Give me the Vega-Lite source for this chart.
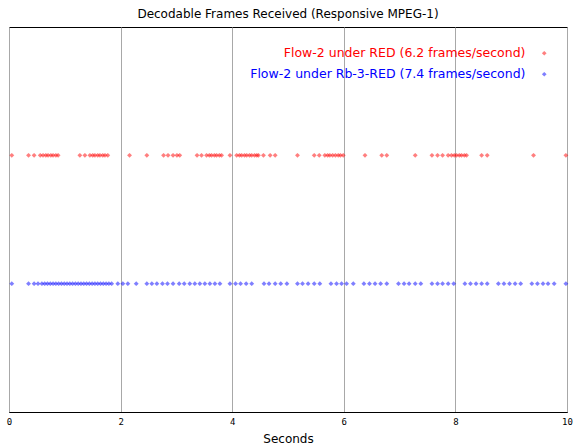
{
  "$schema": "https://vega.github.io/schema/vega-lite/v6.json",
  "autosize": {"type": "none"},
  "width": 558,
  "height": 385,
  "padding": {"left": 9, "top": 27, "right": 7, "bottom": 34},
  "background": "white",
  "title": {"text": "Decodable Frames Received (Responsive MPEG-1)", "font": "DejaVu Sans", "fontSize": 12, "fontWeight": "normal", "color": "#000", "offset": 6, "anchor": "middle"},
  "config": {"view": {"stroke": "#000", "strokeWidth": 1}},
  "data": {"values": [
    {"t":0.05,"s":"RED"},{"t":0.35,"s":"RED"},{"t":0.45,"s":"RED"},{"t":0.56,"s":"RED"},{"t":0.61,"s":"RED"},{"t":0.66,"s":"RED"},{"t":0.70,"s":"RED"},{"t":0.75,"s":"RED"},{"t":0.79,"s":"RED"},{"t":0.84,"s":"RED"},{"t":0.88,"s":"RED"},{"t":1.27,"s":"RED"},{"t":1.36,"s":"RED"},{"t":1.45,"s":"RED"},{"t":1.50,"s":"RED"},{"t":1.54,"s":"RED"},{"t":1.59,"s":"RED"},{"t":1.63,"s":"RED"},{"t":1.68,"s":"RED"},{"t":1.72,"s":"RED"},{"t":1.77,"s":"RED"},{"t":2.16,"s":"RED"},{"t":2.47,"s":"RED"},{"t":2.77,"s":"RED"},{"t":2.85,"s":"RED"},{"t":2.94,"s":"RED"},{"t":3.01,"s":"RED"},{"t":3.06,"s":"RED"},{"t":3.37,"s":"RED"},{"t":3.45,"s":"RED"},{"t":3.54,"s":"RED"},{"t":3.59,"s":"RED"},{"t":3.63,"s":"RED"},{"t":3.68,"s":"RED"},{"t":3.72,"s":"RED"},{"t":3.77,"s":"RED"},{"t":3.81,"s":"RED"},{"t":3.96,"s":"RED"},{"t":4.08,"s":"RED"},{"t":4.13,"s":"RED"},{"t":4.17,"s":"RED"},{"t":4.22,"s":"RED"},{"t":4.26,"s":"RED"},{"t":4.31,"s":"RED"},{"t":4.35,"s":"RED"},{"t":4.40,"s":"RED"},{"t":4.44,"s":"RED"},{"t":4.47,"s":"RED"},{"t":4.56,"s":"RED"},{"t":4.68,"s":"RED"},{"t":4.77,"s":"RED"},{"t":5.17,"s":"RED"},{"t":5.47,"s":"RED"},{"t":5.56,"s":"RED"},{"t":5.66,"s":"RED"},{"t":5.71,"s":"RED"},{"t":5.75,"s":"RED"},{"t":5.80,"s":"RED"},{"t":5.85,"s":"RED"},{"t":5.90,"s":"RED"},{"t":5.94,"s":"RED"},{"t":5.99,"s":"RED"},{"t":6.38,"s":"RED"},{"t":6.68,"s":"RED"},{"t":6.77,"s":"RED"},{"t":7.28,"s":"RED"},{"t":7.58,"s":"RED"},{"t":7.68,"s":"RED"},{"t":7.77,"s":"RED"},{"t":7.87,"s":"RED"},{"t":7.93,"s":"RED"},{"t":7.98,"s":"RED"},{"t":8.02,"s":"RED"},{"t":8.07,"s":"RED"},{"t":8.11,"s":"RED"},{"t":8.16,"s":"RED"},{"t":8.20,"s":"RED"},{"t":8.47,"s":"RED"},{"t":8.57,"s":"RED"},{"t":9.40,"s":"RED"},{"t":9.98,"s":"RED"},
    {"t":0.05,"s":"Rb"},{"t":0.35,"s":"Rb"},{"t":0.45,"s":"Rb"},{"t":0.52,"s":"Rb"},{"t":0.59,"s":"Rb"},{"t":0.64,"s":"Rb"},{"t":0.69,"s":"Rb"},{"t":0.74,"s":"Rb"},{"t":0.79,"s":"Rb"},{"t":0.84,"s":"Rb"},{"t":0.89,"s":"Rb"},{"t":0.94,"s":"Rb"},{"t":0.99,"s":"Rb"},{"t":1.04,"s":"Rb"},{"t":1.09,"s":"Rb"},{"t":1.14,"s":"Rb"},{"t":1.19,"s":"Rb"},{"t":1.24,"s":"Rb"},{"t":1.29,"s":"Rb"},{"t":1.34,"s":"Rb"},{"t":1.39,"s":"Rb"},{"t":1.44,"s":"Rb"},{"t":1.49,"s":"Rb"},{"t":1.54,"s":"Rb"},{"t":1.59,"s":"Rb"},{"t":1.64,"s":"Rb"},{"t":1.69,"s":"Rb"},{"t":1.74,"s":"Rb"},{"t":1.79,"s":"Rb"},{"t":1.84,"s":"Rb"},{"t":1.95,"s":"Rb"},{"t":2.04,"s":"Rb"},{"t":2.13,"s":"Rb"},{"t":2.28,"s":"Rb"},
    {"t":2.47,"s":"Rb"},{"t":2.56,"s":"Rb"},{"t":2.65,"s":"Rb"},{"t":2.75,"s":"Rb"},{"t":2.84,"s":"Rb"},{"t":2.94,"s":"Rb"},{"t":3.05,"s":"Rb"},{"t":3.14,"s":"Rb"},{"t":3.24,"s":"Rb"},{"t":3.33,"s":"Rb"},{"t":3.42,"s":"Rb"},{"t":3.51,"s":"Rb"},{"t":3.60,"s":"Rb"},{"t":3.69,"s":"Rb"},{"t":3.78,"s":"Rb"},
    {"t":3.96,"s":"Rb"},{"t":4.06,"s":"Rb"},{"t":4.15,"s":"Rb"},{"t":4.25,"s":"Rb"},{"t":4.35,"s":"Rb"},
    {"t":4.57,"s":"Rb"},{"t":4.66,"s":"Rb"},{"t":4.77,"s":"Rb"},{"t":4.87,"s":"Rb"},{"t":4.98,"s":"Rb"},
    {"t":5.17,"s":"Rb"},{"t":5.26,"s":"Rb"},{"t":5.36,"s":"Rb"},{"t":5.47,"s":"Rb"},{"t":5.57,"s":"Rb"},
    {"t":5.77,"s":"Rb"},{"t":5.87,"s":"Rb"},{"t":5.96,"s":"Rb"},{"t":6.05,"s":"Rb"},{"t":6.17,"s":"Rb"},
    {"t":6.36,"s":"Rb"},{"t":6.46,"s":"Rb"},{"t":6.56,"s":"Rb"},{"t":6.66,"s":"Rb"},{"t":6.77,"s":"Rb"},
    {"t":6.98,"s":"Rb"},{"t":7.08,"s":"Rb"},{"t":7.17,"s":"Rb"},{"t":7.28,"s":"Rb"},{"t":7.38,"s":"Rb"},
    {"t":7.58,"s":"Rb"},{"t":7.68,"s":"Rb"},{"t":7.77,"s":"Rb"},{"t":7.87,"s":"Rb"},{"t":7.97,"s":"Rb"},
    {"t":8.17,"s":"Rb"},{"t":8.27,"s":"Rb"},{"t":8.37,"s":"Rb"},{"t":8.47,"s":"Rb"},{"t":8.57,"s":"Rb"},
    {"t":8.77,"s":"Rb"},{"t":8.87,"s":"Rb"},{"t":8.97,"s":"Rb"},{"t":9.07,"s":"Rb"},{"t":9.17,"s":"Rb"},
    {"t":9.37,"s":"Rb"},{"t":9.47,"s":"Rb"},{"t":9.57,"s":"Rb"},{"t":9.66,"s":"Rb"},{"t":9.77,"s":"Rb"},
    {"t":9.98,"s":"Rb"}
  ]},
  "mark": {"type": "point", "shape": "diamond", "filled": true, "size": 24, "opacity": 0.5},
  "encoding": {
    "x": {"field": "t", "type": "quantitative", "scale": {"domain": [0, 10], "nice": false, "zero": false},
      "axis": {"title": "Seconds", "titleFont": "DejaVu Sans", "titleFontSize": 12, "titleFontWeight": "normal", "titleColor": "#000", "titlePadding": 7,
        "values": [0, 2, 4, 6, 8, 10], "format": "d", "ticks": false, "labelFlush": false, "labelPadding": 5,
        "labelFont": "DejaVu Sans Mono", "labelFontSize": 9, "labelColor": "#000",
        "grid": true, "gridColor": "#a8a8a8", "gridWidth": 1, "gridOpacity": 1, "domainColor": "#000"}},
    "y": {"field": "s", "type": "nominal", "scale": {"type": "point", "domain": ["RED", "Rb"], "padding": 1}, "axis": null},
    "color": {"field": "s", "type": "nominal",
      "scale": {"domain": ["RED", "Rb"], "range": ["#ff0000", "#0000ff"]},
      "legend": {"title": null, "orient": "top-right", "offset": 20, "padding": 0,
        "labelAlign": "right", "labelOffset": -25, "labelFont": "DejaVu Sans", "labelFontSize": 12.5, "labelLimit": 0,
        "rowPadding": 8, "symbolSize": 22, "symbolOpacity": 0.5,
        "labelExpr": "datum.label == 'RED' ? 'Flow-2 under RED (6.2 frames/second)' : 'Flow-2 under Rb-3-RED (7.4 frames/second)'",
        "encode": {"labels": {"update": {"fill": {"scale": "color", "field": "value"}}}}}}
  }
}
